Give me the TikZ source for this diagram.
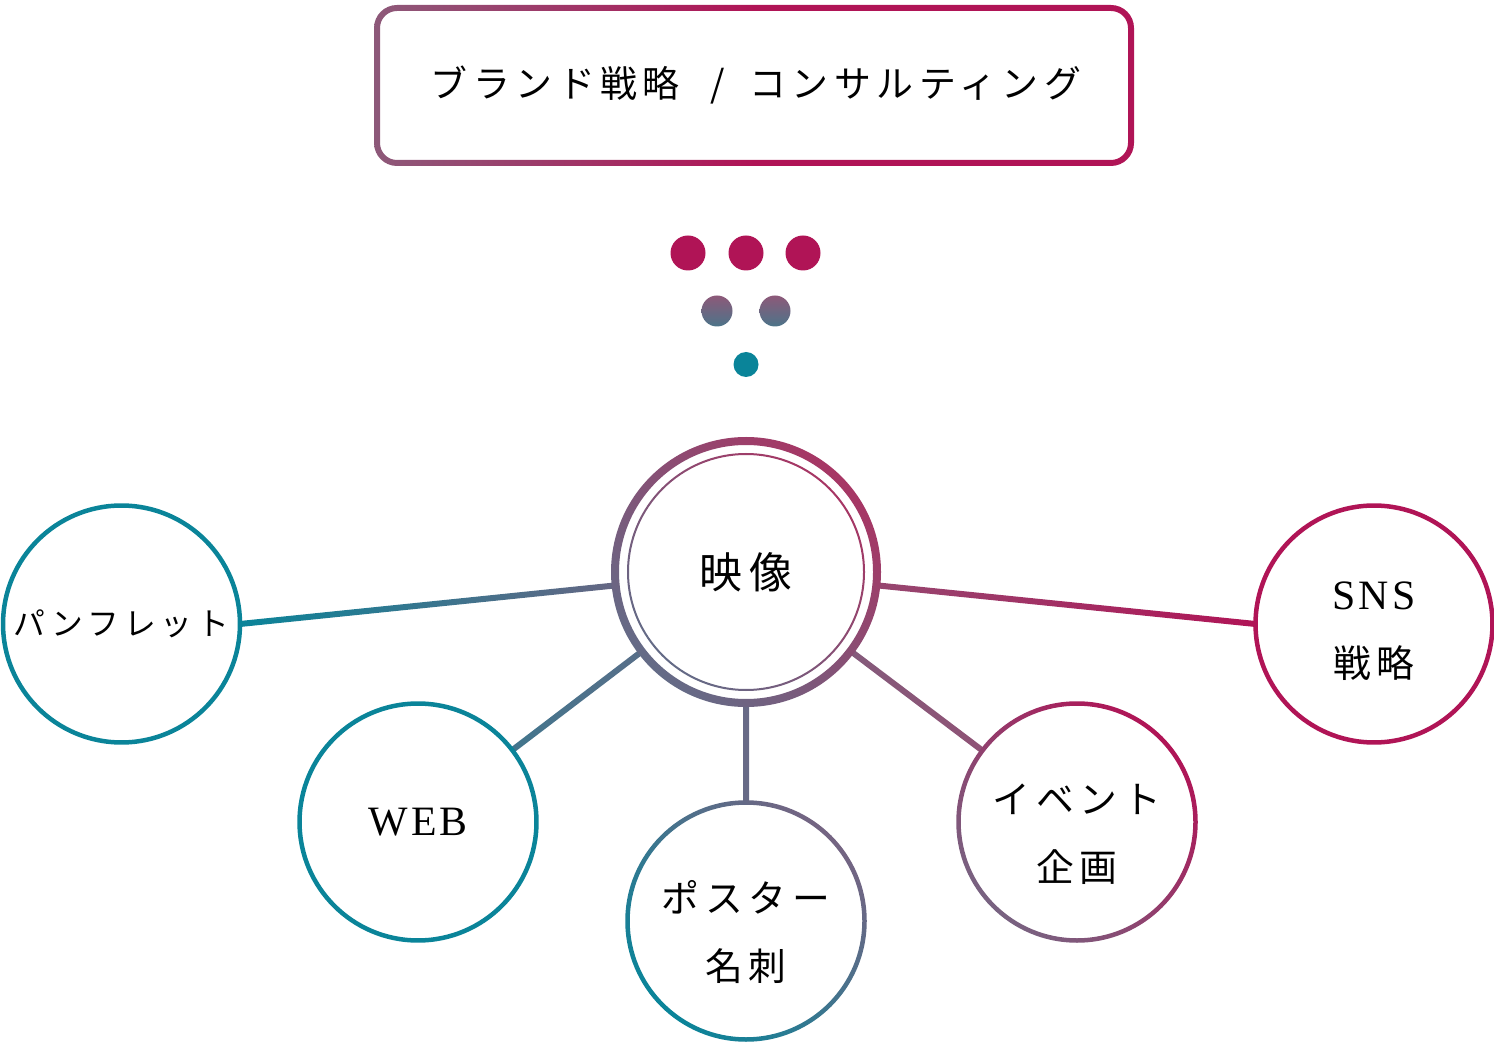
\documentclass[tikz,border=0pt]{standalone}
\usepackage{fontspec}
\newfontfamily\jpfont{Noto Sans CJK JP}[LetterSpace=15]
\newfontfamily\enfont{Liberation Serif}[LetterSpace=8]
\usetikzlibrary{calc}
\pgfdeclarelayer{bg}
\pgfsetlayers{bg,main}

\definecolor{brandmag}{HTML}{B01456}
\definecolor{brandteal}{HTML}{0A8499}
\definecolor{mauve}{HTML}{8D5979}
\definecolor{slate}{HTML}{6A6986}
\definecolor{steel}{HTML}{4C7489}
\definecolor{rose}{HTML}{A63A66}

% thick connector with a colour gradient
\newcommand{\gradlink}[3]{\shade[#3] ($(#1)!0.06cm!90:(#2)$) -- ($(#2)!0.06cm!-90:(#1)$) -- ($(#2)!0.06cm!90:(#1)$) -- ($(#1)!0.06cm!-90:(#2)$) -- cycle;}
% ring with a colour gradient
\newcommand{\gradring}[4]{\shade[even odd rule,#4] (#1) circle[radius=#2+#3/2] (#1) circle[radius=#2-#3/2];}

\tikzset{
  leaf/.style={circle, fill=white, minimum size=4.74cm, inner sep=0pt, outer sep=0pt, align=center,
    font=\jpfont\fontsize{21.5}{38.5}\selectfont},
  hub/.style={leaf, minimum size=5.24cm, font=\jpfont\fontsize{24.4}{28}\selectfont},
  latin/.style={font=\enfont\fontsize{23.8}{38.5}\selectfont},
}

\begin{document}
\begin{tikzpicture}[x=0.02cm, y=0.02cm]
\useasboundingbox (0,0) rectangle (1494,1042);

% top box
\shade[even odd rule, rounded corners=0.46cm, left color=mauve, right color=brandmag, middle color=brandmag]
  (374,876) rectangle (1134,1037) [rounded corners=0.34cm] (380,882) rectangle (1128,1031);
\node[font=\jpfont\fontsize{21}{24}\selectfont] (brand) at (756,956.5) {ブランド戦略\hspace{0.45em} / \hspace{0.3em}コンサルティング};

% dots
\fill[brandmag] (688,789) circle[radius=17.5] (746,789) circle[radius=17.5] (803,789) circle[radius=17.5];
\shade[top color=mauve, bottom color=steel] (717,731) circle[radius=15.5];
\shade[top color=mauve, bottom color=steel] (775,731) circle[radius=15.5];
\fill[brandteal] (746,677.5) circle[radius=12.5];

% circles
\node[hub] (yz) at (746,470) {映像};
\node[leaf, draw=brandteal, line width=0.09cm, font=\jpfont\fontsize{18.1}{22}\selectfont] (pamph) at (121.5,418) {パンフレット};
\node[leaf, draw=brandteal, line width=0.09cm, latin] (web) at (418,220) {WEB};
\node[leaf] (poster) at (746,121) {\rule{0pt}{31pt}ポスター\\名刺};
\node[leaf] (event) at (1077,220) {\rule{0pt}{31pt}イベント\\企画};
\node[leaf, draw=brandmag, line width=0.09cm] (sns) at (1374,418) {{\enfont\fontsize{23.8}{38.5}\selectfont\rule{0pt}{24pt}SNS}\\戦略};

\gradring{yz.center}{131}{8}{bottom color=slate!80!steel, top color=rose!90!brandmag, shading angle=-45}
\gradring{yz.center}{118}{2}{bottom color=slate!80!steel, top color=rose!90!brandmag, shading angle=-45}
\gradring{poster.center}{118.5}{4.5}{bottom color=brandteal, top color=slate!70!mauve, shading angle=-45}
\gradring{event.center}{118.5}{4.5}{bottom color=slate!60!mauve, top color=brandmag, shading angle=-45}

% connectors
\begin{pgfonlayer}{bg}
\gradlink{pamph.east}{yz.center}{left color=brandteal, right color=mauve!80!slate}
\gradlink{yz.center}{sns.west}{left color=mauve, right color=brandmag}
\gradlink{web.center}{yz.center}{left color=steel!60!brandteal, right color=slate}
\gradlink{yz.center}{event.center}{left color=slate!50!mauve, right color=mauve!60!rose}
\gradlink{yz.center}{poster.center}{top color=slate, bottom color=slate!85!steel}
\end{pgfonlayer}
\end{tikzpicture}
\end{document}
